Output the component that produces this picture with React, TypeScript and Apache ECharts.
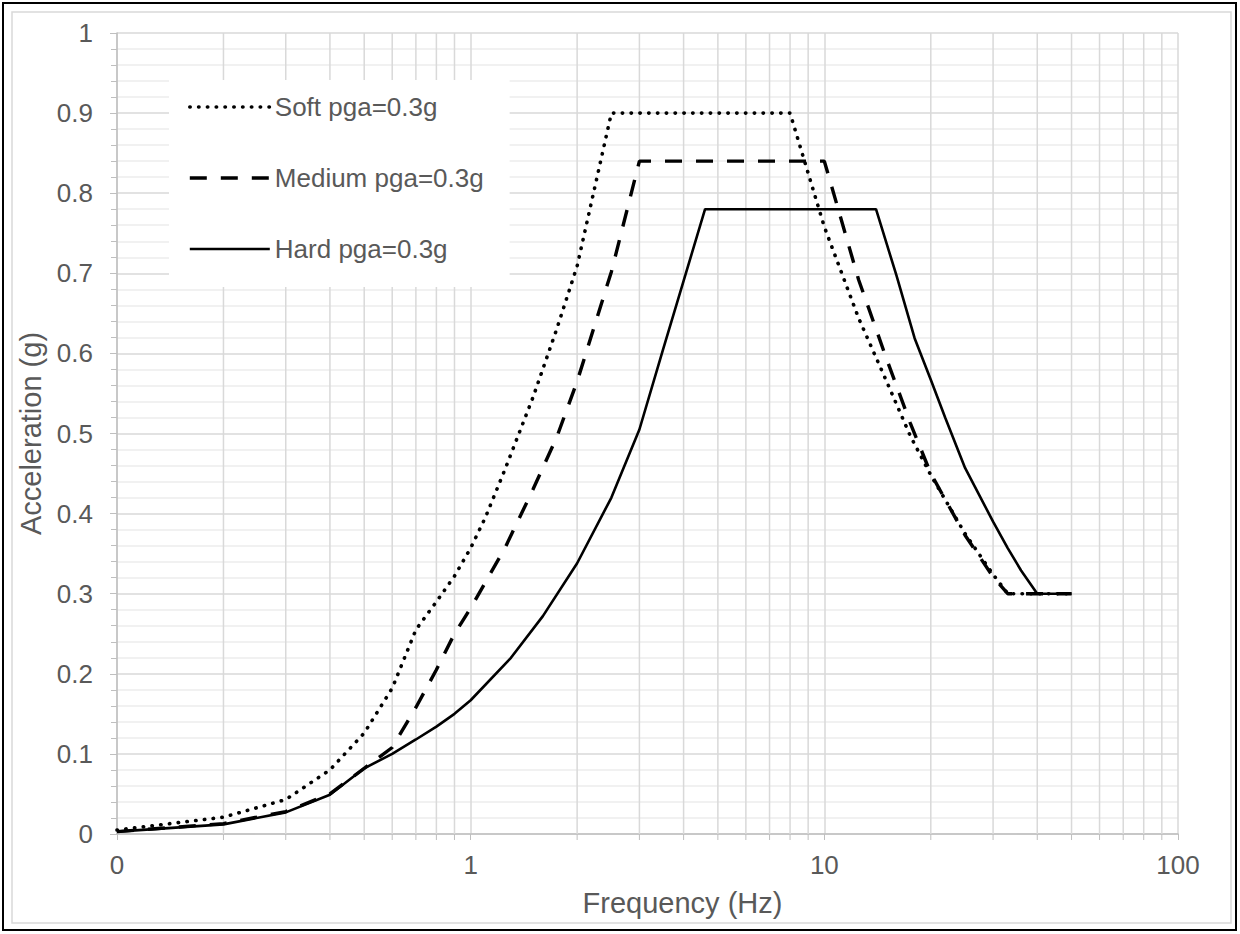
import React, { useEffect, useRef } from "react";
import * as echarts from "echarts";

// ---- data ----
const seriesNames = ["Soft pga=0.3g", "Medium pga=0.3g", "Hard pga=0.3g"];

const softFreq = [0.1, 0.2, 0.3, 0.4, 0.5, 0.6, 0.7, 0.8, 0.9, 1.0, 1.1, 1.25, 1.5, 1.75, 2.0, 2.5, 8, 9, 10, 12.5, 15, 17.5, 20, 25, 30, 33, 50];
const softAcc = [0.005, 0.021, 0.043, 0.08, 0.126, 0.182, 0.255, 0.29, 0.322, 0.357, 0.395, 0.455, 0.545, 0.63, 0.709, 0.9, 0.9, 0.825, 0.758, 0.644, 0.565, 0.497, 0.448, 0.375, 0.324, 0.3, 0.3];

const mediumFreq = [0.1, 0.2, 0.3, 0.4, 0.5, 0.6, 0.7, 0.8, 0.9, 1.0, 1.25, 1.5, 1.75, 2.0, 2.5, 3.0, 10, 12.5, 15, 17.5, 20, 25, 30, 33, 50];
const mediumAcc = [0.003, 0.013, 0.028, 0.05, 0.082, 0.108, 0.158, 0.205, 0.25, 0.282, 0.357, 0.43, 0.495, 0.565, 0.702, 0.84, 0.84, 0.692, 0.593, 0.513, 0.45, 0.373, 0.321, 0.3, 0.3];

const hardFreq = [0.1, 0.2, 0.3, 0.4, 0.5, 0.6, 0.7, 0.8, 0.9, 1.0, 1.3, 1.6, 2.0, 2.5, 3.0, 3.5, 4.6, 14, 16, 18, 20, 22, 25, 30, 33, 36, 40, 50];
const hardAcc = [0.003, 0.012, 0.027, 0.049, 0.082, 0.1, 0.118, 0.134, 0.15, 0.167, 0.22, 0.272, 0.338, 0.42, 0.505, 0.605, 0.78, 0.78, 0.697, 0.619, 0.567, 0.519, 0.457, 0.39, 0.357, 0.329, 0.3, 0.3];

// x-axis ticks (log axis) and their printed labels
const xTickValues = [0.1, 1, 10, 100];
const xTickLabels = ["0", "1", "10", "100"];
// minor log grid lines
const xMinorGridValues = [
  0.2, 0.3, 0.4, 0.5, 0.6, 0.7, 0.8, 0.9,
  2, 3, 4, 5, 6, 7, 8, 9,
  20, 30, 40, 50, 60, 70, 80, 90,
];

const FONT = "'Liberation Sans', Arial, Helvetica, sans-serif";
const TEXT = "#595959";
const AXIS = "#bfbfbf";
const GRID = "#d9d9d9";
const MINOR = "#ececec";

const softStyle = { color: "#000", width: 3.6, type: [0.4, 8.4], cap: "round" };
const mediumStyle = { color: "#000", width: 3.4, type: [17, 14], cap: "butt" };
const hardStyle = { color: "#000", width: 2.6, type: "solid", cap: "butt" };
const lineStyles = [softStyle, mediumStyle, hardStyle];

function pairs(xs: number[], ys: number[]) {
  return xs.map((x, i) => [x, ys[i]]);
}

export default function App() {
  const ref = useRef<HTMLDivElement>(null);

  useEffect(() => {
    if (!ref.current) return;
    const chart = echarts.init(ref.current, null, { renderer: "svg" });
    const datasets = [
      pairs(softFreq, softAcc),
      pairs(mediumFreq, mediumAcc),
      pairs(hardFreq, hardAcc),
    ];

    chart.setOption({
      animation: false,
      backgroundColor: "#ffffff",
      textStyle: { fontFamily: FONT },
      grid: { left: 117, right: 62, top: 33, bottom: 100 },
      legend: {
        data: seriesNames.map((n, i) => ({
          name: n,
          lineStyle: lineStyles[i],
          itemStyle: { opacity: 0, borderWidth: 0 },
        })),
        orient: "vertical",
        left: 169,
        top: 80,
        padding: [12, 26, 23, 19],
        itemGap: 41,
        itemWidth: 80,
        itemHeight: 14,
        backgroundColor: "#ffffff",
        selectedMode: false,
        textStyle: { fontSize: 26, color: TEXT, fontFamily: FONT, lineHeight: 30 },
      },
      xAxis: {
        type: "log",
        logBase: 10,
        min: 0.1,
        max: 100,
        axisLine: { show: true, lineStyle: { color: AXIS, width: 1.5 } },
        axisTick: { show: true, length: 6, lineStyle: { color: AXIS, width: 1 } },
        axisLabel: {
          color: TEXT,
          fontSize: 26,
          fontFamily: FONT,
          margin: 18,
          formatter: (v: number) => {
            const i = xTickValues.findIndex((t) => Math.abs(t - v) < 1e-6 * Math.max(1, t));
            return i >= 0 ? xTickLabels[i] : "";
          },
        },
        splitLine: { show: true, lineStyle: { color: GRID, width: 1.5 } },
        name: "Frequency (Hz)",
        nameLocation: "middle",
        nameGap: 54,
        nameTextStyle: { fontSize: 29, color: TEXT, fontFamily: FONT, padding: [0, 0, 0, 70] },
      },
      yAxis: {
        type: "value",
        min: 0,
        max: 1,
        interval: 0.1,
        axisLine: { show: true, lineStyle: { color: AXIS, width: 1.5 } },
        axisTick: { show: true, length: 7, lineStyle: { color: AXIS, width: 1 } },
        minorTick: { show: true, splitNumber: 5, length: 6, lineStyle: { color: AXIS, width: 1 } },
        splitLine: { show: true, lineStyle: { color: GRID, width: 1.5 } },
        minorSplitLine: { show: true, lineStyle: { color: MINOR, width: 1.5 } },
        axisLabel: { color: TEXT, fontSize: 26, fontFamily: FONT, margin: 24 },
        name: "Acceleration (g)",
        nameLocation: "middle",
        nameGap: 68,
        nameTextStyle: { fontSize: 29, color: TEXT, fontFamily: FONT },
      },
      graphic: [
        {
          type: "rect",
          silent: true,
          z: 100,
          shape: { x: 3, y: 3, width: 1233, height: 927 },
          style: { fill: "none", stroke: "#000", lineWidth: 2 },
        },
        {
          type: "rect",
          silent: true,
          z: 100,
          shape: { x: 12, y: 12, width: 1219, height: 911 },
          style: { fill: "none", stroke: GRID, lineWidth: 1.5 },
        },
      ],
      series: [
        {
          type: "custom",
          name: "minor-grid",
          silent: true,
          z: 1,
          clip: false,
          data: xMinorGridValues.map((v) => [v, 0]),
          encode: { x: 0, y: 1 },
          renderItem: (params: any, api: any) => {
            const v = api.value(0);
            const b = api.coord([v, 0]);
            const t = api.coord([v, 1]);
            return {
              type: "group",
              children: [
                {
                  type: "line",
                  shape: { x1: b[0], y1: t[1], x2: b[0], y2: b[1] },
                  style: { stroke: GRID, lineWidth: 1.5 },
                },
                {
                  type: "line",
                  shape: { x1: b[0], y1: b[1], x2: b[0], y2: b[1] + 6 },
                  style: { stroke: AXIS, lineWidth: 1 },
                },
              ],
            };
          },
        },
        ...seriesNames.map((name, i) => ({
          type: "line",
          name,
          data: datasets[i],
          symbol: "none",
          showSymbol: false,
          smooth: false,
          z: 3,
          lineStyle: lineStyles[i],
          itemStyle: { color: "#000" },
        })),
      ],
    });

    return () => chart.dispose();
  }, []);

  return (
    <div
      ref={ref}
      style={{ position: "fixed", left: 0, top: 0, width: 1240, height: 934, background: "#fff" }}
    />
  );
}
